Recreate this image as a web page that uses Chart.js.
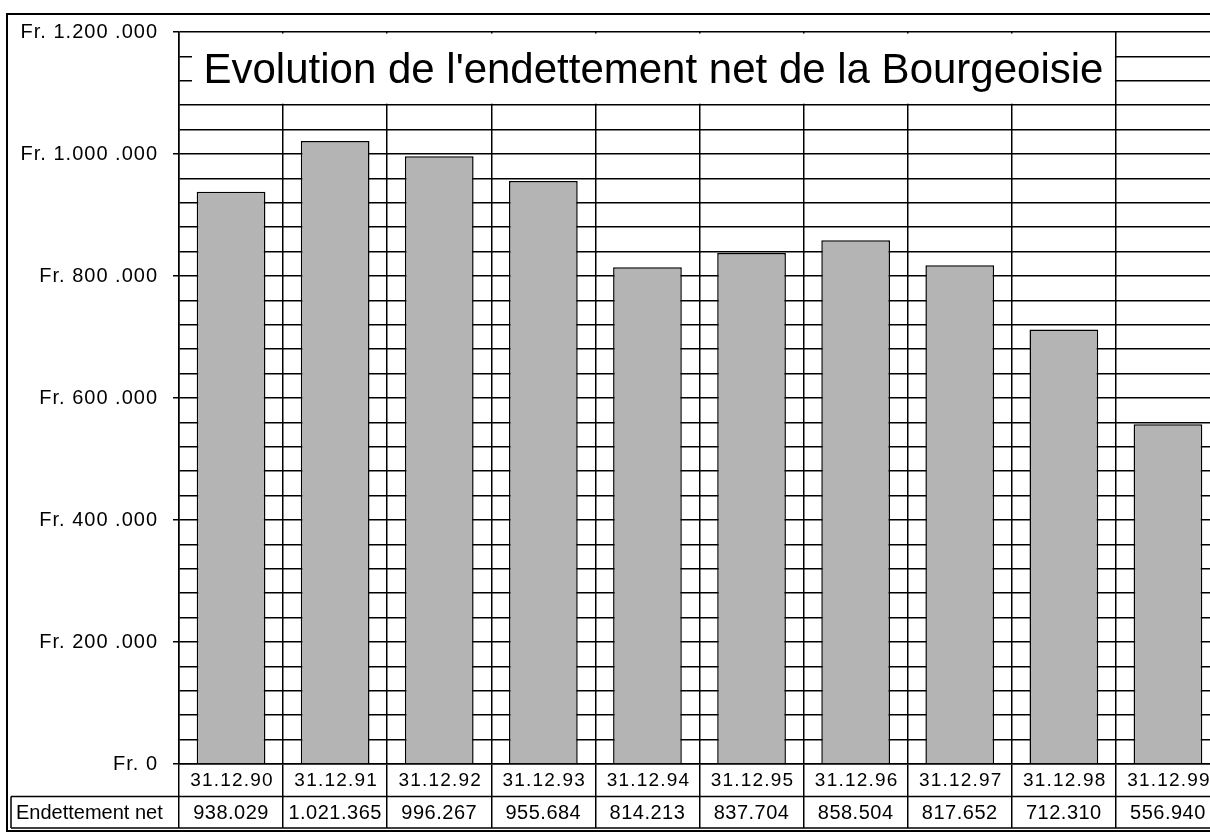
<!DOCTYPE html>
<html>
<head>
<meta charset="utf-8">
<script src="https://cdn.jsdelivr.net/npm/chart.js@4.4.1/dist/chart.umd.min.js"></script>
<style>
  html, body { margin: 0; background: #fff; overflow: hidden; }
  #wrap { width: 1210px; height: 836px; overflow: hidden; }
  canvas { display: block; }
</style>
</head>
<body>
<div id="wrap"><canvas id="debtChart" width="1224" height="836"></canvas></div>
<script>
var categories = ['31.12.90', '31.12.91', '31.12.92', '31.12.93', '31.12.94',
                  '31.12.95', '31.12.96', '31.12.97', '31.12.98', '31.12.99'];
var debtValues = [938029, 1021365, 996267, 955684, 814213, 837704, 858504, 817652, 712310, 556940];
var valueLabels = ['938.029', '1.021.365', '996.267', '955.684', '814.213',
                   '837.704', '858.504', '817.652', '712.310', '556.940'];
var yTickLabels = ['Fr. 0', 'Fr. 200 .000', 'Fr. 400 .000', 'Fr. 600 .000',
                   'Fr. 800 .000', 'Fr. 1.000 .000', 'Fr. 1.200 .000'];
var seriesName = 'Endettement net';
var chartTitle = "Evolution de l'endettement net de la Bourgeoisie";

var FONT = '"Liberation Sans", Arial, sans-serif';

// frame, title box and the data table under the axis
var tablePlugin = {
    id: 'tablePlugin',
    beforeDraw: function(chart) {
        var c = chart.ctx;
        c.save();
        c.fillStyle = '#fff';
        c.fillRect(0, 0, chart.width, chart.height);
        c.restore();
        // the old export has slightly spaced-out tick text
        c.letterSpacing = '1px';
    },
    afterDraw: function(chart) {
        var c = chart.ctx;
        var x = chart.scales.x, y = chart.scales.y;
        var area = chart.chartArea;
        c.save();

        // title box over the grid
        var bx1 = area.left + 13;
        var bx2 = x.getPixelForValue(categories.length - 1.5) - 1;
        var by1 = y.getPixelForValue(1200000) + 1.5;
        var by2 = y.getPixelForValue(1080000) - 1.5;
        c.fillStyle = '#fff';
        c.fillRect(bx1, by1, bx2 - bx1, by2 - by1);
        c.fillStyle = '#000';
        c.letterSpacing = '0px';
        c.font = '42px ' + FONT;
        c.textAlign = 'center';
        c.textBaseline = 'middle';
        c.fillText(chartTitle, (bx1 + bx2) / 2, (by1 + by2) / 2 + 3);

        // table rows
        var rowMid = Math.round((x.top + x.bottom) / 2) + 0.5;
        var bottom = x.bottom;
        c.strokeStyle = '#000';
        c.lineWidth = 1.5;
        c.beginPath();
        c.moveTo(11, rowMid); c.lineTo(chart.width, rowMid);
        c.moveTo(11, bottom); c.lineTo(chart.width, bottom);
        c.moveTo(11, rowMid); c.lineTo(11, bottom);
        c.stroke();

        c.textBaseline = 'middle';
        c.textAlign = 'center';
        for (var i = 0; i < categories.length; i++) {
            var cx = x.getPixelForValue(i);
            c.font = '19px ' + FONT;
            c.letterSpacing = '1.2px';
            c.fillText(categories[i], cx + 1, (x.top + rowMid) / 2 + 1);
            c.font = '20px ' + FONT;
            c.letterSpacing = '0.5px';
            c.fillText(valueLabels[i], cx, (rowMid + bottom) / 2 + 1);
        }
        c.textAlign = 'left';
        c.letterSpacing = '0px';
        c.font = '20px ' + FONT;
        c.fillText(seriesName, 16, (rowMid + bottom) / 2 + 1);

        // outer frame
        c.lineWidth = 2;
        c.strokeRect(7, 14, chart.width + 20, 817);
        c.restore();
    }
};

var ctx = document.getElementById('debtChart').getContext('2d');
var chart = new Chart(ctx, {
    type: 'bar',
    data: {
        labels: categories,
        datasets: [{
            label: seriesName,
            data: debtValues,
            backgroundColor: '#b4b4b4',
            borderColor: '#000',
            borderWidth: 1.5,
            barPercentage: 0.66,
            categoryPercentage: 1
        }]
    },
    plugins: [tablePlugin],
    options: {
        responsive: false,
        animation: false,
        layout: { padding: { left: 0, right: 4, top: 32, bottom: 8 } },
        plugins: {
            legend: { display: false },
            title: { display: false },
            tooltip: { enabled: false }
        },
        scales: {
            x: {
                offset: true,
                grid: {
                    offset: true,
                    color: '#000',
                    lineWidth: 1.5,
                    drawTicks: true,
                    tickLength: 64,
                    tickColor: '#000'
                },
                border: { color: '#000', width: 1.5 },
                ticks: { display: false }
            },
            y: {
                min: 0,
                max: 1200000,
                afterFit: function(scale) { scale.width = 179; },
                grid: {
                    color: '#000',
                    lineWidth: 1.5,
                    tickLength: 6,
                    tickColor: function(context) {
                        return context.tick && context.tick.value % 200000 === 0 ? '#000' : 'rgba(0,0,0,0)';
                    }
                },
                border: { color: '#000', width: 1.5 },
                ticks: {
                    stepSize: 40000,
                    autoSkip: false,
                    padding: 15,
                    color: '#000',
                    font: { family: FONT, size: 20 },
                    callback: function(value) {
                        return value % 200000 === 0 ? yTickLabels[value / 200000] : '';
                    }
                }
            }
        }
    }
});
</script>
</body>
</html>
